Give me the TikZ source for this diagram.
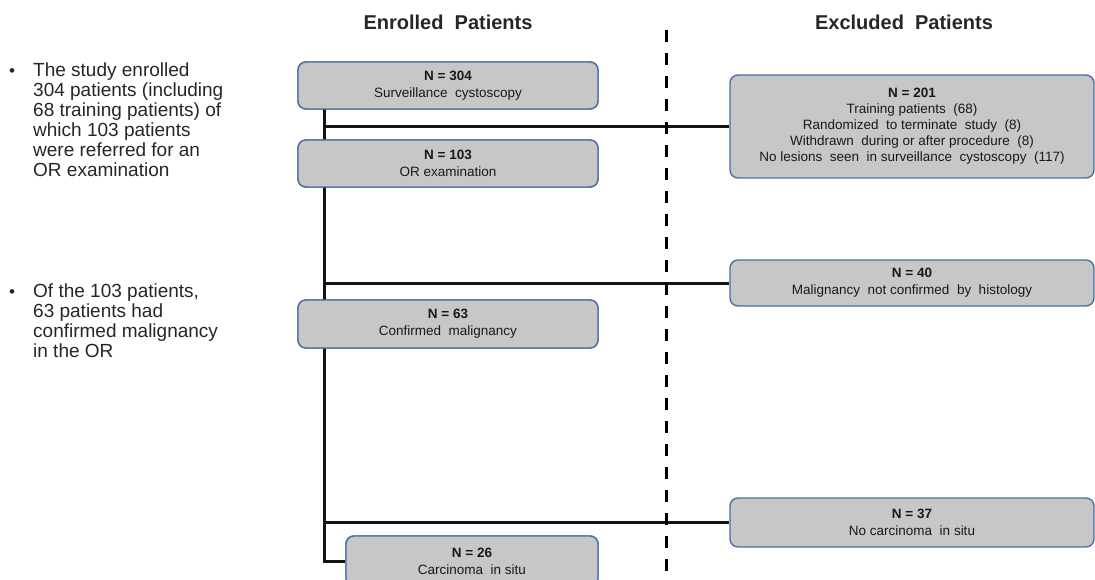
\documentclass[tikz,border=0pt]{standalone}
\usepackage{fontspec}
\setmainfont{Liberation Sans}
\begin{document}
\begin{tikzpicture}[x=1pt,y=-1pt,
  box/.style={draw=boxblue, line width=1.4pt, fill=boxgray, rounded corners=8pt,
    align=center, inner sep=0pt, font=\fontsize{13.5}{17}\selectfont, text=black!90},
  conn/.style={line width=3pt, draw=black!92},
  header/.style={font=\fontsize{20}{24}\selectfont\bfseries, text=black!85},
  bullettext/.style={anchor=north west, align=left, inner sep=0pt,
    font=\fontsize{19}{20}\selectfont, text=black!85},
  bulletdot/.style={anchor=north west, inner sep=0pt,
    font=\fontsize{17}{20}\selectfont, text=black!85}]
\definecolor{boxblue}{HTML}{4A6EA6}
\definecolor{boxgray}{HTML}{C7C7C7}
\useasboundingbox (0,0) rectangle (1095,580);
% headers
\node[header] (h1) at (448,22) {Enrolled\ \ Patients};
\node[header] (h2) at (904,22) {Excluded\ \ Patients};
% bullets
\node[bulletdot] (bl1) at (9,62) {\strut•};
\node[bullettext] (t1) at (33,62) {\strut The study enrolled\\304 patients (including\\68 training patients) of\\which 103 patients\\were referred for an\\OR examination};
\node[bulletdot] (bl2) at (9,283) {\strut•};
\node[bullettext] (t2) at (33,283) {\strut Of the 103 patients,\\63 patients had\\confirmed malignancy\\in the OR};
% trunk coordinates
\coordinate (trunk) at (324,109);
% divider
\coordinate (dtop) at (666,30);
\coordinate (dbot) at (666,582);
% boxes
\path
  node[box, minimum width=300pt, minimum height=47pt] (b304) at (448,85.5) {\textbf{N = 304}\\Surveillance\ \ cystoscopy}
  node[box, minimum width=300pt, minimum height=47pt] (b103) at (448,163.5) {\textbf{N = 103}\\OR examination}
  node[box, minimum width=300pt, minimum height=48pt] (b63) at (448,324) {\textbf{N = 63}\\Confirmed\ \ malignancy}
  node[box, minimum width=252pt, minimum height=50pt] (b26) at (472,561) {\textbf{N = 26}\\Carcinoma\ \ in situ}
  node[box, minimum width=364pt, minimum height=103pt, font=\fontsize{13.5}{16}\selectfont] (b201) at (912,126.5) {\textbf{N = 201}\\Training patients\ \ (68)\\Randomized\ \ to terminate\ \ study\ \ (8)\\Withdrawn\ \ during or after procedure\ \ (8)\\No lesions\ \ seen\ \ in surveillance\ \ cystoscopy\ \ (117)}
  node[box, minimum width=364pt, minimum height=46pt] (b40) at (912,283) {\textbf{N = 40}\\Malignancy\ \ not confirmed\ \ by\ \ histology}
  node[box, minimum width=364pt, minimum height=49pt] (b37) at (912,522.5) {\textbf{N = 37}\\No carcinoma\ \ in situ};
% connectors
\draw[conn] (trunk) |- (b26.west);
\draw[conn] (b201.west -| trunk) -- (b201.west);
\draw[conn] (b40.west -| trunk) -- (b40.west);
\draw[conn] (b37.west -| trunk) -- (b37.west);
\draw[line width=3pt, black, dash pattern=on 12pt off 11pt] (dtop) -- (dbot);
% redraw left boxes on top of the trunk
\node[box, minimum width=300pt, minimum height=47pt] (c304) at (b304) {\textbf{N = 304}\\Surveillance\ \ cystoscopy};
\node[box, minimum width=300pt, minimum height=47pt] (c103) at (b103) {\textbf{N = 103}\\OR examination};
\node[box, minimum width=300pt, minimum height=48pt] (c63) at (b63) {\textbf{N = 63}\\Confirmed\ \ malignancy};
\node[box, minimum width=252pt, minimum height=50pt] (c26) at (b26) {\textbf{N = 26}\\Carcinoma\ \ in situ};
\end{tikzpicture}
\end{document}
